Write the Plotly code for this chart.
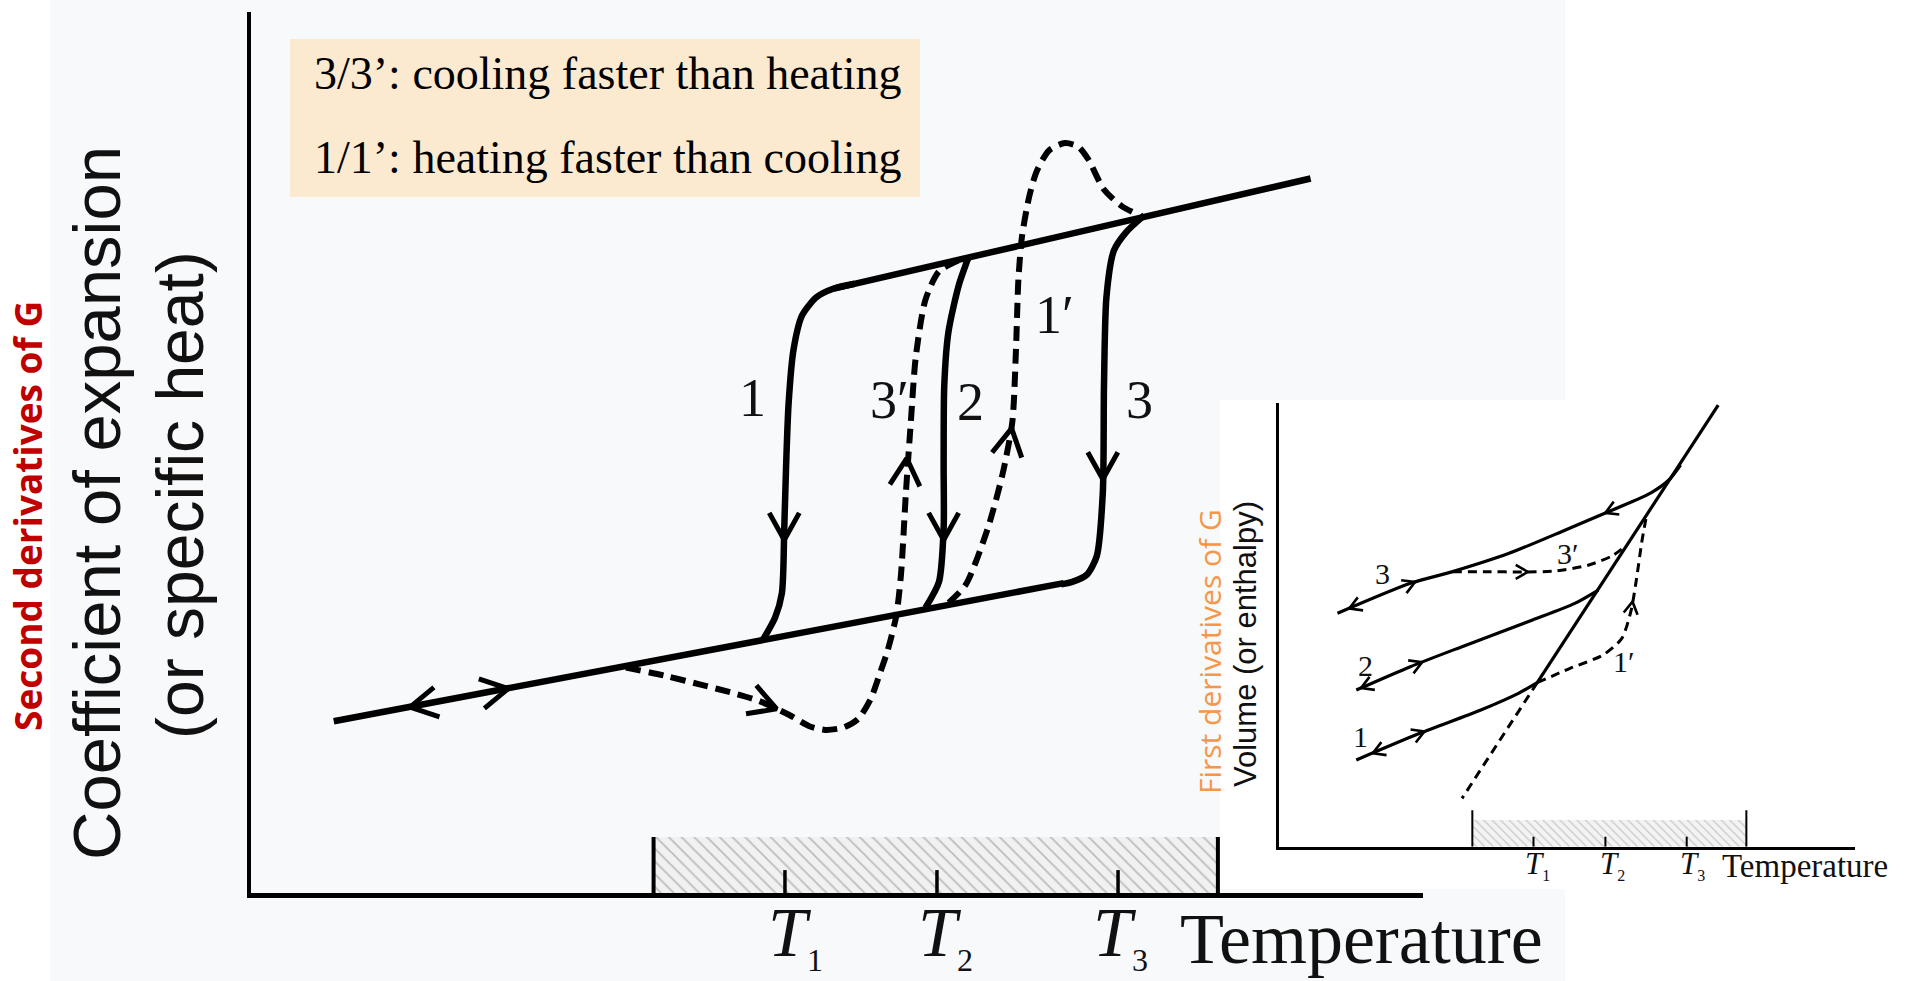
import math
import plotly.graph_objects as go

W, H = 1917, 981

# ---------------- main panel: coefficient of expansion vs temperature (arbitrary units 0-100)
lower_x = [7.06, 69.34]
lower_y = [19.49, 35.17]
upper_x = [49.73, 90.41]
upper_y = [68.61, 81.10]

c1_x = [51.50, 49.73, 48.27, 47.02, 46.29, 45.87, 45.66, 45.50, 45.30, 44.72, 43.68]
c1_y = [69.15, 68.61, 67.64, 65.56, 61.67, 55.57, 48.63, 41.41, 34.06, 31.28, 28.75]
c2_x = [61.20, 60.37, 59.50, 59.15, 59.10, 59.10, 58.70, 57.55]
c2_y = [72.08, 68.89, 63.61, 57.51, 48.63, 41.41, 35.31, 32.39]
c3_x = [76.23, 74.66, 73.62, 72.99, 72.78, 72.68, 72.16, 71.32, 70.07, 69.13]
c3_y = [76.94, 74.99, 72.91, 67.64, 57.51, 45.44, 38.22, 36.14, 35.31, 35.03]

c3p_x = [31.99, 35.44, 38.36, 41.18, 43.26, 45.97, 47.64, 49.00, 50.56, 51.81, 52.86,
         53.69, 54.32, 55.05, 55.46, 55.88, 56.30, 56.72, 57.55, 58.70, 60.58]
c3p_y = [25.59, 24.62, 23.65, 22.68, 21.85, 20.18, 18.93, 18.51, 18.79, 19.76, 21.98,
         25.04, 27.53, 31.42, 36.14, 45.44, 53.48, 60.84, 67.36, 70.55, 71.94]
c1p_x = [59.53, 61.00, 62.87, 64.12, 64.96, 65.27, 65.48, 65.79, 66.42, 67.04, 68.09,
         69.44, 70.59, 71.42, 72.78, 74.35, 75.81]
c1p_y = [32.95, 35.03, 41.41, 47.52, 53.48, 61.67, 69.72, 74.58, 79.16, 81.93, 84.29,
         85.12, 84.71, 83.32, 79.85, 77.91, 76.94]

# arrow tips and their heading (degrees, 0 = right, 90 = up)
arr_x = [13.57, 21.95, 45.50, 59.10, 72.68, 55.95, 44.85, 64.90]
arr_y = [21.10, 23.20, 40.07, 40.07, 46.96, 49.34, 20.90, 52.74]
arr_dir = [190.7, 10.7, -90, -90, -90, 86, -20, 80]

temp_ticks = [45.56, 58.53, 73.98]
temp_subs = ["1", "2", "3"]
temp_label_x = [46.42, 59.22, 74.15]
hatch_range = [34.35, 82.50]
hatch_top = 6.36

curve_labels = ["1", "3′", "2", "3", "1′"]
curve_label_x = [42.83, 54.52, 61.35, 75.85, 68.6]
curve_label_y = [56.19, 55.96, 55.73, 55.96, 65.6]

# ---------------- inset: volume (or enthalpy) vs temperature
ins_eq_x = [76.33, 44.90]
ins_eq_y = [101.5, 37.71]
ins_eqd_x = [44.90, 31.84]
ins_eqd_y = [37.71, 11.12]
ins3_x = [10.21, 22.86, 30.21, 40.00, 49.80, 57.96, 64.49, 67.76, 69.80]
ins3_y = [53.65, 60.54, 63.23, 67.44, 72.81, 77.40, 81.23, 84.30, 87.75]
ins3p_x = [30.21, 35.92, 42.45, 48.16, 53.88, 57.96, 60.25]
ins3p_y = [63.23, 63.23, 63.15, 63.38, 64.76, 66.90, 69.13]
ins2_x = [13.47, 22.86, 31.84, 44.08, 51.43, 55.51]
ins2_y = [36.02, 41.39, 45.99, 52.12, 55.95, 59.01]
ins1_x = [13.47, 24.49, 35.10, 41.63, 44.90]
ins1_y = [19.93, 26.06, 31.43, 35.26, 37.71]
ins1p_x = [44.90, 50.61, 56.33, 59.59, 61.22, 62.20, 63.02, 63.84]
ins1p_y = [37.71, 41.00, 44.07, 47.90, 54.41, 62.08, 69.74, 75.87]

ins_arr_x = [12.25, 23.68, 56.74, 43.27, 14.29, 24.90, 16.33, 25.31, 61.45]
ins_arr_y = [54.76, 60.84, 76.75, 63.18, 36.49, 42.40, 21.50, 26.47, 56.33]
ins_arr_dir = [202.4, 22.4, 203.4, 0, 202.3, 22.3, 201.9, 21.9, 81]

ins_ticks = [44.25, 56.74, 70.86]
ins_label_x = [45.03, 57.9, 71.8]
ins_hatch_range = [33.63, 81.22]
ins_hatch_top = 6.14

ins_curve_labels = ["3", "3′", "2", "1", "1′"]
ins_curve_label_x = [17.96, 50.2, 15.1, 14.29, 60.0]
ins_curve_label_y = [62.84, 67.44, 41.77, 25.29, 42.54]

# ---------------- layout geometry
main_dx = [251 / W, 1423 / W]
main_dy = [1 - 893 / H, 1 - 12 / H]
ins_dx = [1278.7 / W, 1854.5 / W]
ins_dy = [1 - 846.7 / H, 1 - 403 / H]
main_rng = [0, 100]
ins_xrng = [0, 100]
ins_yrng = [0, 102]

SERIF = "Liberation Serif"
SANS = "Liberation Sans"


def v_heads(xs, ys, dirs, sx, sy, length, spread):
    px, py = [], []
    for x, y, a in zip(xs, ys, dirs):
        for s in (-1, 1):
            b = math.radians(a + 180 + s * spread)
            px.append(x + length * math.cos(b) / sx)
            py.append(y + length * math.sin(b) / sy)
            if s == -1:
                px.append(x)
                py.append(y)
        px.append(None)
        py.append(None)
    return px, py


def line(x, y, width, dash="solid", xa="x", ya="y", shape="spline"):
    return go.Scatter(x=x, y=y, mode="lines", xaxis=xa, yaxis=ya, hoverinfo="skip",
                      line=dict(color="black", width=width, dash=dash, shape=shape, smoothing=0.7))


fig = go.Figure()

# main hatch region
fig.add_trace(go.Scatter(
    x=[hatch_range[0], hatch_range[1], hatch_range[1], hatch_range[0], hatch_range[0]],
    y=[0, 0, hatch_top, hatch_top, 0], mode="lines", fill="toself",
    fillcolor="#ececec", line=dict(width=0), hoverinfo="skip",
    fillpattern=dict(shape="\\", size=9, solidity=0.2, fgcolor="#8a8a8a", bgcolor="#f1f1f1")))
fig.add_trace(go.Scatter(
    x=[hatch_range[0], hatch_range[0], None, hatch_range[1], hatch_range[1]],
    y=[0, hatch_top, None, 0, hatch_top], mode="lines",
    line=dict(color="black", width=4), hoverinfo="skip"))
tx, ty = [], []
for t in temp_ticks:
    tx += [t, t, None]
    ty += [0, 2.6, None]
fig.add_trace(go.Scatter(x=tx, y=ty, mode="lines", line=dict(color="black", width=3.5), hoverinfo="skip"))

# main curves
fig.add_trace(line(lower_x, lower_y, 6.5, shape="linear"))
fig.add_trace(line(upper_x, upper_y, 6.5, shape="linear"))
fig.add_trace(line(c1_x, c1_y, 6.5))
fig.add_trace(line(c2_x, c2_y, 6.5))
fig.add_trace(line(c3_x, c3_y, 6.5))
fig.add_trace(line(c3p_x, c3p_y, 6, dash="15px,8px"))
fig.add_trace(line(c1p_x, c1p_y, 6, dash="15px,8px"))

msx = W * (main_dx[1] - main_dx[0]) / (main_rng[1] - main_rng[0])
msy = H * (main_dy[1] - main_dy[0]) / (main_rng[1] - main_rng[0])
ax_, ay_ = v_heads(arr_x, arr_y, arr_dir, msx, msy, 31, 29)
fig.add_trace(go.Scatter(x=ax_, y=ay_, mode="lines", hoverinfo="skip",
                         line=dict(color="black", width=5)))

# inset
fig.add_trace(go.Scatter(
    x=[ins_hatch_range[0], ins_hatch_range[1], ins_hatch_range[1], ins_hatch_range[0], ins_hatch_range[0]],
    y=[0, 0, ins_hatch_top, ins_hatch_top, 0], mode="lines", fill="toself",
    fillcolor="#f0f0f0", line=dict(width=0), hoverinfo="skip", xaxis="x2", yaxis="y2",
    fillpattern=dict(shape="\\", size=6, solidity=0.2, fgcolor="#9a9a9a", bgcolor="#f3f3f3")))
fig.add_trace(go.Scatter(
    x=[ins_hatch_range[0], ins_hatch_range[0], None, ins_hatch_range[1], ins_hatch_range[1]],
    y=[0, 8.4, None, 0, 8.4], mode="lines", xaxis="x2", yaxis="y2",
    line=dict(color="black", width=2), hoverinfo="skip"))
tx, ty = [], []
for t in ins_ticks:
    tx += [t, t, None]
    ty += [0, 2.3, None]
fig.add_trace(go.Scatter(x=tx, y=ty, mode="lines", xaxis="x2", yaxis="y2",
                         line=dict(color="black", width=2), hoverinfo="skip"))

fig.add_trace(line(ins_eq_x, ins_eq_y, 3.2, xa="x2", ya="y2", shape="linear"))
fig.add_trace(line(ins_eqd_x, ins_eqd_y, 3, dash="9px,6px", xa="x2", ya="y2", shape="linear"))
fig.add_trace(line(ins3_x, ins3_y, 3.2, xa="x2", ya="y2"))
fig.add_trace(line(ins3p_x, ins3p_y, 3, dash="9px,6px", xa="x2", ya="y2"))
fig.add_trace(line(ins2_x, ins2_y, 3.2, xa="x2", ya="y2"))
fig.add_trace(line(ins1_x, ins1_y, 3.2, xa="x2", ya="y2"))
fig.add_trace(line(ins1p_x, ins1p_y, 3, dash="9px,6px", xa="x2", ya="y2"))

isx = W * (ins_dx[1] - ins_dx[0]) / (ins_xrng[1] - ins_xrng[0])
isy = H * (ins_dy[1] - ins_dy[0]) / (ins_yrng[1] - ins_yrng[0])
ax_, ay_ = v_heads(ins_arr_x, ins_arr_y, ins_arr_dir, isx, isy, 14, 30)
fig.add_trace(go.Scatter(x=ax_, y=ay_, mode="lines", hoverinfo="skip", xaxis="x2", yaxis="y2",
                         line=dict(color="black", width=2.6)))

# ---------------- annotations
def note(text, x, y, size, family=SERIF, color="#111", xref="paper", yref="paper",
         xanchor="center", angle=0):
    return dict(text=text, x=x, y=y, xref=xref, yref=yref, xanchor=xanchor, yanchor="middle",
                textangle=angle, showarrow=False, font=dict(family=family, size=size, color=color))


def t_label(sub, sub_size):
    return "<i>T</i><sub><span style='font-size:%dpx'>%s</span></sub>" % (sub_size, sub)


ann = [
    note("3/3’: cooling faster than heating", 312 / W, 1 - 73 / H, 46, color="black", xanchor="left"),
    note("1/1’: heating faster than cooling", 312 / W, 1 - 157 / H, 46, color="black", xanchor="left"),
    note("Coefficient of expansion", 96 / W, 1 - 503 / H, 67, family=SANS, angle=-90),
    note("(or specific heat)", 180 / W, 1 - 495 / H, 66, family=SANS, angle=-90),
    note("<b>Second derivatives of G</b>", 27 / W, 1 - 516 / H, 37, family="Open Sans",
         color="#C00000", angle=-90),
    note("Volume (or enthalpy)", 1245 / W, 1 - 644 / H, 31, family=SANS, angle=-90),
    note("First derivatives of G", 1209 / W, 1 - 652 / H, 30, family="Open Sans",
         color="#F79646", angle=-90),
]
for s, x in zip(temp_subs, temp_label_x):
    ann.append(note(t_label(s, 32), x, 1 - 936 / H, 70, xref="x"))
ann.append(note("Temperature", 79.1, 1 - 939 / H, 72, xref="x", xanchor="left"))
for t, x, y in zip(curve_labels, curve_label_x, curve_label_y):
    ann.append(note(t, x, y, 54, xref="x", yref="y"))

for s, x in zip(temp_subs, ins_label_x):
    ann.append(note(t_label(s, 16), x, 1 - 865 / H, 31, xref="x2"))
ann.append(note("Temperature", 76.6, 1 - 866 / H, 33, xref="x2", xanchor="left"))
for t, x, y in zip(ins_curve_labels, ins_curve_label_x, ins_curve_label_y):
    ann.append(note(t, x, y, 30, xref="x2", yref="y2"))

shapes = [
    dict(type="rect", xref="paper", yref="paper", x0=50 / W, x1=1565 / W, y0=0, y1=1,
         fillcolor="#F7F9FB", line=dict(width=0), layer="below"),
    dict(type="rect", xref="paper", yref="paper", x0=1220 / W, x1=1, y0=1 - 889 / H, y1=1 - 400 / H,
         fillcolor="white", line=dict(width=0), layer="below"),
    dict(type="rect", xref="paper", yref="paper", x0=290 / W, x1=920 / W, y0=1 - 197 / H, y1=1 - 39 / H,
         fillcolor="#FBEAD0", line=dict(width=0), layer="below"),
]

axis_common = dict(showgrid=False, zeroline=False, showticklabels=False, ticks="",
                   showline=True, linecolor="black")
fig.update_layout(
    width=W, height=H, margin=dict(l=0, r=0, t=0, b=0),
    paper_bgcolor="white", plot_bgcolor="rgba(0,0,0,0)", showlegend=False,
    xaxis=dict(domain=main_dx, range=main_rng, linewidth=5, anchor="y", **axis_common),
    yaxis=dict(domain=main_dy, range=main_rng, linewidth=4, anchor="x", **axis_common),
    xaxis2=dict(domain=ins_dx, range=ins_xrng, linewidth=3, anchor="y2", **axis_common),
    yaxis2=dict(domain=ins_dy, range=ins_yrng, linewidth=2.5, anchor="x2", **axis_common),
    annotations=ann, shapes=shapes,
)

fig.write_html("out.html", config={"displayModeBar": False},
               post_script="document.body.style.margin='0';")
